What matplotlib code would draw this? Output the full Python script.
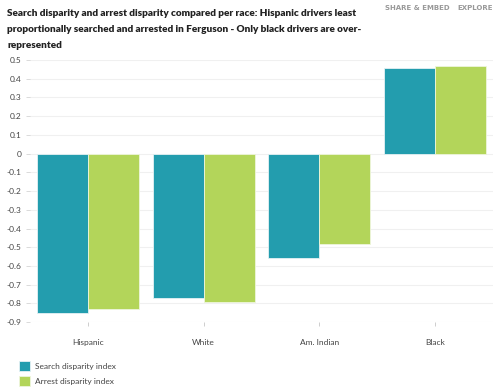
import matplotlib.pyplot as plt
import numpy as np

# data
races = ['Hispanic', 'White', 'Am. Indian', 'Black']
search_idx = [-0.85, -0.77, -0.56, 0.46]
arrest_idx = [-0.83, -0.79, -0.48, 0.47]
yticks = [0.5, 0.4, 0.3, 0.2, 0.1, 0, -0.1, -0.2, -0.3, -0.4, -0.5, -0.6, -0.7, -0.8, -0.9]

teal = '#239dae'
green = '#b3d55a'

plt.rcParams['font.family'] = ['Lato', 'DejaVu Sans']

fig = plt.figure(figsize=(5, 3.9), dpi=100)
ax = fig.add_axes([0.06, 0.174, 0.926, 0.672])

x = np.arange(len(races))
w = 0.44
ax.bar(x - w / 2, search_idx, w, color=teal, edgecolor='#e6f2f4', linewidth=0.6,
       label='Search disparity index', zorder=3)
ax.bar(x + w / 2, arrest_idx, w, color=green, edgecolor='#eef6dc', linewidth=0.6,
       label='Arrest disparity index', zorder=3)

ax.set_xlim(-0.5, 3.5)
ax.set_ylim(-0.9, 0.5)
ax.set_yticks(yticks)
ax.set_yticklabels([('%g' % t) for t in yticks], fontsize=6, color='#444444')
ax.set_xticks(x)
ax.set_xticklabels(races, fontsize=6, color='#444444')
ax.tick_params(axis='y', length=3, width=0.5, color='#cccccc', pad=3)
ax.tick_params(axis='x', length=3, width=0.5, color='#bbbbbb', pad=9, direction='out')
ax.yaxis.grid(True, color='#f0f0f0', linewidth=0.8, zorder=0)
for s in ax.spines.values():
    s.set_visible(False)

fig.text(0.014, 0.976,
         'Search disparity and arrest disparity compared per race: Hispanic drivers least\n'
         'proportionally searched and arrested in Ferguson - Only black drivers are over-\n'
         'represented',
         fontsize=7.2, fontweight='heavy', color='#222222', va='top', linespacing=2.0)
fig.text(0.77, 0.988, 'SHARE & EMBED', fontsize=5, fontweight='bold', color='#999999',
         va='top', family='DejaVu Sans')
fig.text(0.914, 0.988, 'EXPLORE', fontsize=5, fontweight='bold', color='#999999',
         va='top', family='DejaVu Sans')

leg = fig.legend(loc='upper left', bbox_to_anchor=(0.032, 0.082), frameon=False,
                 fontsize=6, handlelength=1.3, handleheight=1.4, handletextpad=0.6,
                 labelspacing=0.6, borderaxespad=0)
for t in leg.get_texts():
    t.set_color('#444444')

fig.savefig('out.png', dpi=100)
